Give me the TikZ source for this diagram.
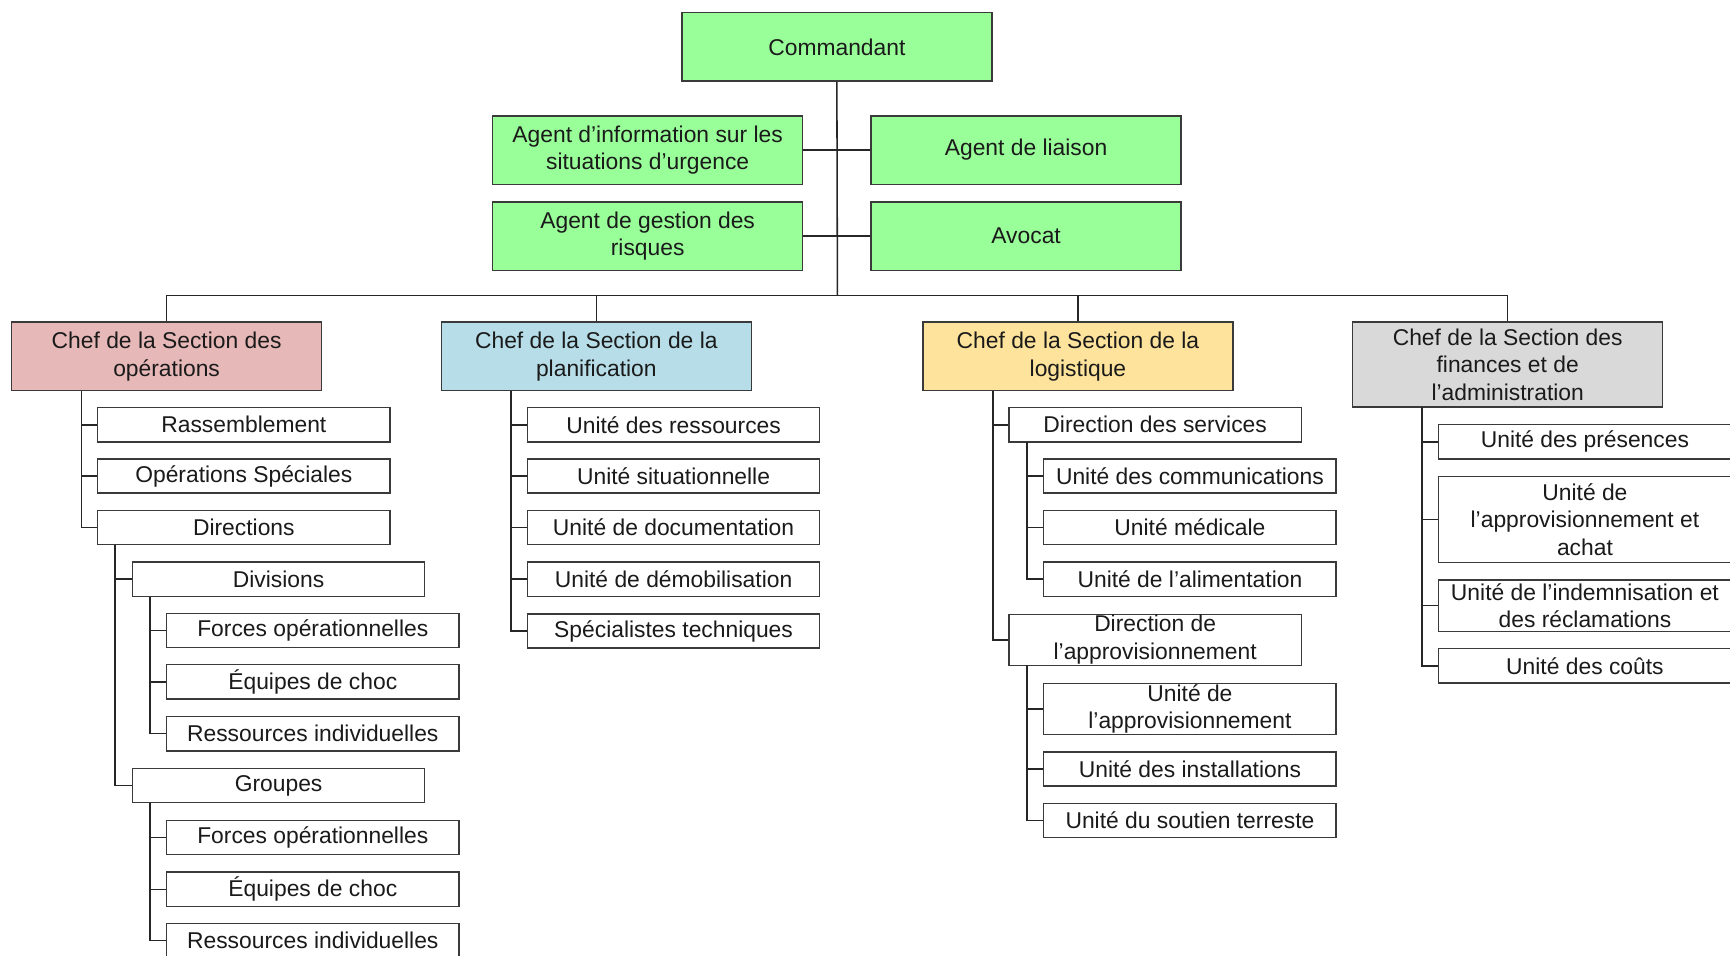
\documentclass[tikz,border=0pt]{standalone}
\usepackage{fontspec}
\setmainfont{Liberation Sans}
\definecolor{gr}{RGB}{153,255,153}
\definecolor{pk}{HTML}{E6B8B7}
\definecolor{bl}{HTML}{B7DEE8}
\definecolor{yl}{HTML}{FDE39B}
\definecolor{gy}{HTML}{D9D9D9}
\definecolor{ln}{HTML}{3A3A3A}
\definecolor{tx}{HTML}{1A1A1A}
\begin{document}
\begin{tikzpicture}[x=0.5pt,y=-0.5pt,
  base/.style={draw=ln,line width=0.65pt,inner sep=0pt,align=center,text=tx,
    font=\fontsize{10.35}{12.6}\selectfont},
  top/.style={base,fill=gr,minimum width=140.5pt,minimum height=31pt},
  sect/.style={base,minimum width=140.5pt,minimum height=31pt},
  unit/.style={base,fill=white,minimum width=132.5pt,minimum height=15.5pt},
  conn/.style={draw=black!85,line width=0.7pt}]
\useasboundingbox (0,0) rectangle (1568,866);
\clip (0,0) rectangle (1568,866);
\fill[white] (0,0) rectangle (1568,866);

% top level
\node[top] (cmd) at (758.5,42.5) {Commandant};
\node[top] (agi) at (587,136) {Agent d’information sur les\\situations d’urgence};
\node[top] (lia) at (930,136) {Agent de liaison};
\node[top] (agr) at (587,214) {Agent de gestion des\\risques};
\node[top] (avo) at (930,214) {Avocat};
\coordinate (bar) at (759,268);

% sections
\node[sect,fill=pk] (ops) at (151,323) {Chef de la Section des\\opérations};
\node[sect,fill=bl] (plan) at (540.5,323) {Chef de la Section de la\\planification};
\node[sect,fill=yl] (log) at (977,323) {Chef de la Section de la\\logistique};
\node[sect,fill=gy,minimum height=38.5pt] (fin) at (1366.5,330.5) {Chef de la Section des\\finances et de\\l’administration};

% operations
\node[unit] (ras) at (221,385) {Rassemblement};
\node[unit] (ops2) at (221,431.5) {Opérations Spéciales};
\node[unit] (dir) at (221,478) {Directions};
\node[unit] (div) at (252.5,525) {Divisions};
\node[unit] (dfo) at (283.5,571.5) {Forces opérationnelles};
\node[unit] (deq) at (283.5,618) {Équipes de choc};
\node[unit] (dri) at (283.5,665) {Ressources individuelles};
\node[unit] (grp) at (252.5,712) {Groupes};
\node[unit] (gfo) at (283.5,759) {Forces opérationnelles};
\node[unit] (geq) at (283.5,806) {Équipes de choc};
\node[unit] (gri) at (283.5,852.5) {Ressources individuelles};

% planning
\node[unit] (pre) at (610.5,385) {Unité des ressources};
\node[unit] (psi) at (610.5,431.5) {Unité situationnelle};
\node[unit] (pdo) at (610.5,478) {Unité de documentation};
\node[unit] (pde) at (610.5,525) {Unité de démobilisation};
\node[unit] (psp) at (610.5,572) {Spécialistes techniques};

% logistics
\node[unit] (lds) at (1047,385) {Direction des services};
\node[unit] (lco) at (1078.5,431.5) {Unité des communications};
\node[unit] (lme) at (1078.5,478) {Unité médicale};
\node[unit] (lal) at (1078.5,525) {Unité de l’alimentation};
\node[unit,minimum height=23pt] (lda) at (1047,580) {Direction de\\l’approvisionnement};
\node[unit,minimum height=23pt] (lua) at (1078.5,642.5) {Unité de\\l’approvisionnement};
\node[unit] (lin) at (1078.5,697) {Unité des installations};
\node[unit] (lso) at (1078.5,743.5) {Unité du soutien terreste};

% finance
\node[unit] (fpr) at (1436.5,400.5) {Unité des présences};
\node[unit,minimum height=39pt] (fap) at (1436.5,471) {Unité de\\l’approvisionnement et\\achat};
\node[unit,minimum height=23.5pt] (fin2) at (1436.5,549) {Unité de l’indemnisation et\\des réclamations};
\node[unit] (fco) at (1436.5,603.5) {Unité des coûts};

% connectors top
\draw[conn] (cmd.south) -- (bar);
\draw[conn] (agi.east) -- (lia.west);
\draw[conn] (agr.east) -- (avo.west);
\draw[conn] (ops.north) |- (bar -| fin.north) -- (fin.north);
\draw[conn] (plan.north) -- (plan.north |- bar);
\draw[conn] (log.north) -- (log.north |- bar);

% trunks
\coordinate (tops) at (74,354);
\coordinate (tdir) at (104,494);
\coordinate (tdiv) at (136,541);
\coordinate (tgrp) at (136,728);
\coordinate (tplan) at (463,354);
\coordinate (tlog) at (900,354);
\coordinate (tlds) at (931,401);
\coordinate (tlda) at (931,603);
\coordinate (tfin) at (1289,369);

\draw[conn] (tops) |- (dir.west);
\draw[conn] (tops |- ras.west) -- (ras.west);
\draw[conn] (tops |- ops2.west) -- (ops2.west);
\draw[conn] (tdir) |- (grp.west);
\draw[conn] (tdir |- div.west) -- (div.west);
\draw[conn] (tdiv) |- (dri.west);
\draw[conn] (tdiv |- dfo.west) -- (dfo.west);
\draw[conn] (tdiv |- deq.west) -- (deq.west);
\draw[conn] (tgrp) |- (gri.west);
\draw[conn] (tgrp |- gfo.west) -- (gfo.west);
\draw[conn] (tgrp |- geq.west) -- (geq.west);

\draw[conn] (tplan) |- (psp.west);
\draw[conn] (tplan |- pre.west) -- (pre.west);
\draw[conn] (tplan |- psi.west) -- (psi.west);
\draw[conn] (tplan |- pdo.west) -- (pdo.west);
\draw[conn] (tplan |- pde.west) -- (pde.west);

\draw[conn] (tlog) |- (lda.west);
\draw[conn] (tlog |- lds.west) -- (lds.west);
\draw[conn] (tlds) |- (lal.west);
\draw[conn] (tlds |- lco.west) -- (lco.west);
\draw[conn] (tlds |- lme.west) -- (lme.west);
\draw[conn] (tlda) |- (lso.west);
\draw[conn] (tlda |- lua.west) -- (lua.west);
\draw[conn] (tlda |- lin.west) -- (lin.west);

\draw[conn] (tfin) |- (fco.west);
\draw[conn] (tfin |- fpr.west) -- (fpr.west);
\draw[conn] (tfin |- fap.west) -- (fap.west);
\draw[conn] (tfin |- fin2.west) -- (fin2.west);
\end{tikzpicture}
\end{document}
